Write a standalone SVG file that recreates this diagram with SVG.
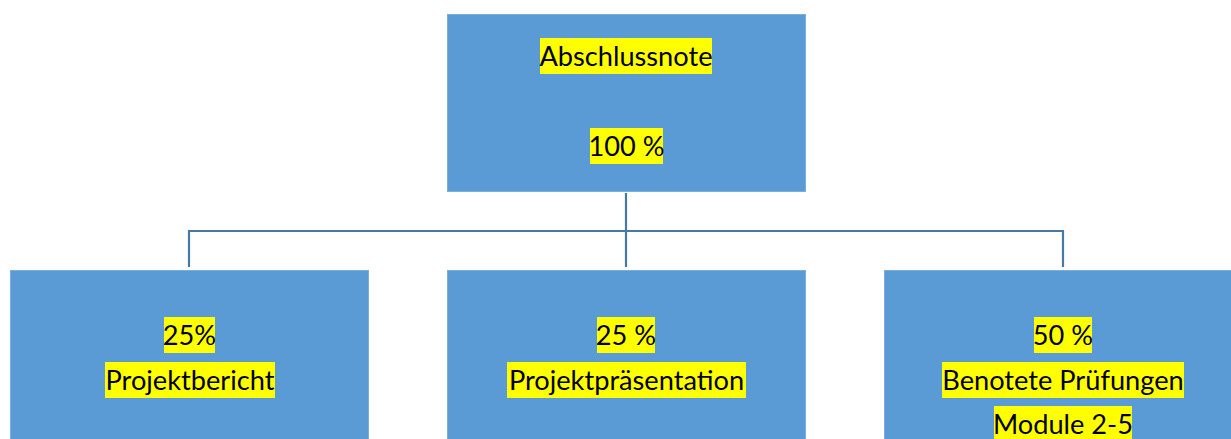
<svg xmlns="http://www.w3.org/2000/svg" width="1231" height="439" viewBox="0 0 1231 439">
  <style>
    .box { fill: #5B9BD5; stroke: #7AAEDD; stroke-width: 1; }
    .hl { fill: #FFFF00; }
    .lbl { font-family: Lato, "Noto Sans", "Liberation Sans", sans-serif; font-size: 27.2px; fill: #000000; text-anchor: middle; }
    .wire { fill: none; stroke: #4678A8; stroke-width: 2.2; }
  </style>
  <rect width="1231" height="439" fill="#FFFFFF"/>

  <!-- connectors -->
  <g id="connectors">
    <path class="wire" d="M626,193 V231"/>
    <path class="wire" d="M189,267 V231 H1063 V267"/>
    <path class="wire" d="M626,231 V267"/>
  </g>

  <!-- root: final grade -->
  <g id="node-abschlussnote">
    <rect class="box" x="447.5" y="14.5" width="358" height="177"/>
    <rect class="hl" x="540" y="38" width="172" height="36"/>
    <text class="lbl" x="626" y="65.5">Abschlussnote</text>
    <rect class="hl" x="590" y="128" width="73" height="36"/>
    <text class="lbl" x="626.5" y="156">100 %</text>
  </g>

  <!-- report -->
  <g id="node-projektbericht">
    <rect class="box" x="10.5" y="270.5" width="358" height="180"/>
    <rect class="hl" x="164" y="317" width="51" height="36"/>
    <text class="lbl" x="189.5" y="345">25%</text>
    <rect class="hl" x="105" y="362" width="170" height="36"/>
    <text class="lbl" x="190" y="389.5">Projektbericht</text>
  </g>

  <!-- presentation -->
  <g id="node-projektpraesentation">
    <rect class="box" x="447.5" y="270.5" width="358" height="180"/>
    <rect class="hl" x="597" y="317" width="58" height="36"/>
    <text class="lbl" x="626" y="344.5">25 %</text>
    <rect class="hl" x="507" y="362" width="239" height="36"/>
    <text class="lbl" x="626.5" y="389.5">Projektpräsentation</text>
  </g>

  <!-- graded exams -->
  <g id="node-pruefungen">
    <rect class="box" x="884.5" y="270.5" width="358" height="180"/>
    <rect class="hl" x="1034" y="317" width="58" height="36"/>
    <text class="lbl" x="1063" y="345">50 %</text>
    <rect class="hl" x="942" y="362" width="242" height="36"/>
    <text class="lbl" x="1063" y="389.5">Benotete Prüfungen</text>
    <rect class="hl" x="994" y="406" width="138" height="36"/>
    <text class="lbl" x="1063" y="433.5">Module 2-5</text>
  </g>
</svg>
